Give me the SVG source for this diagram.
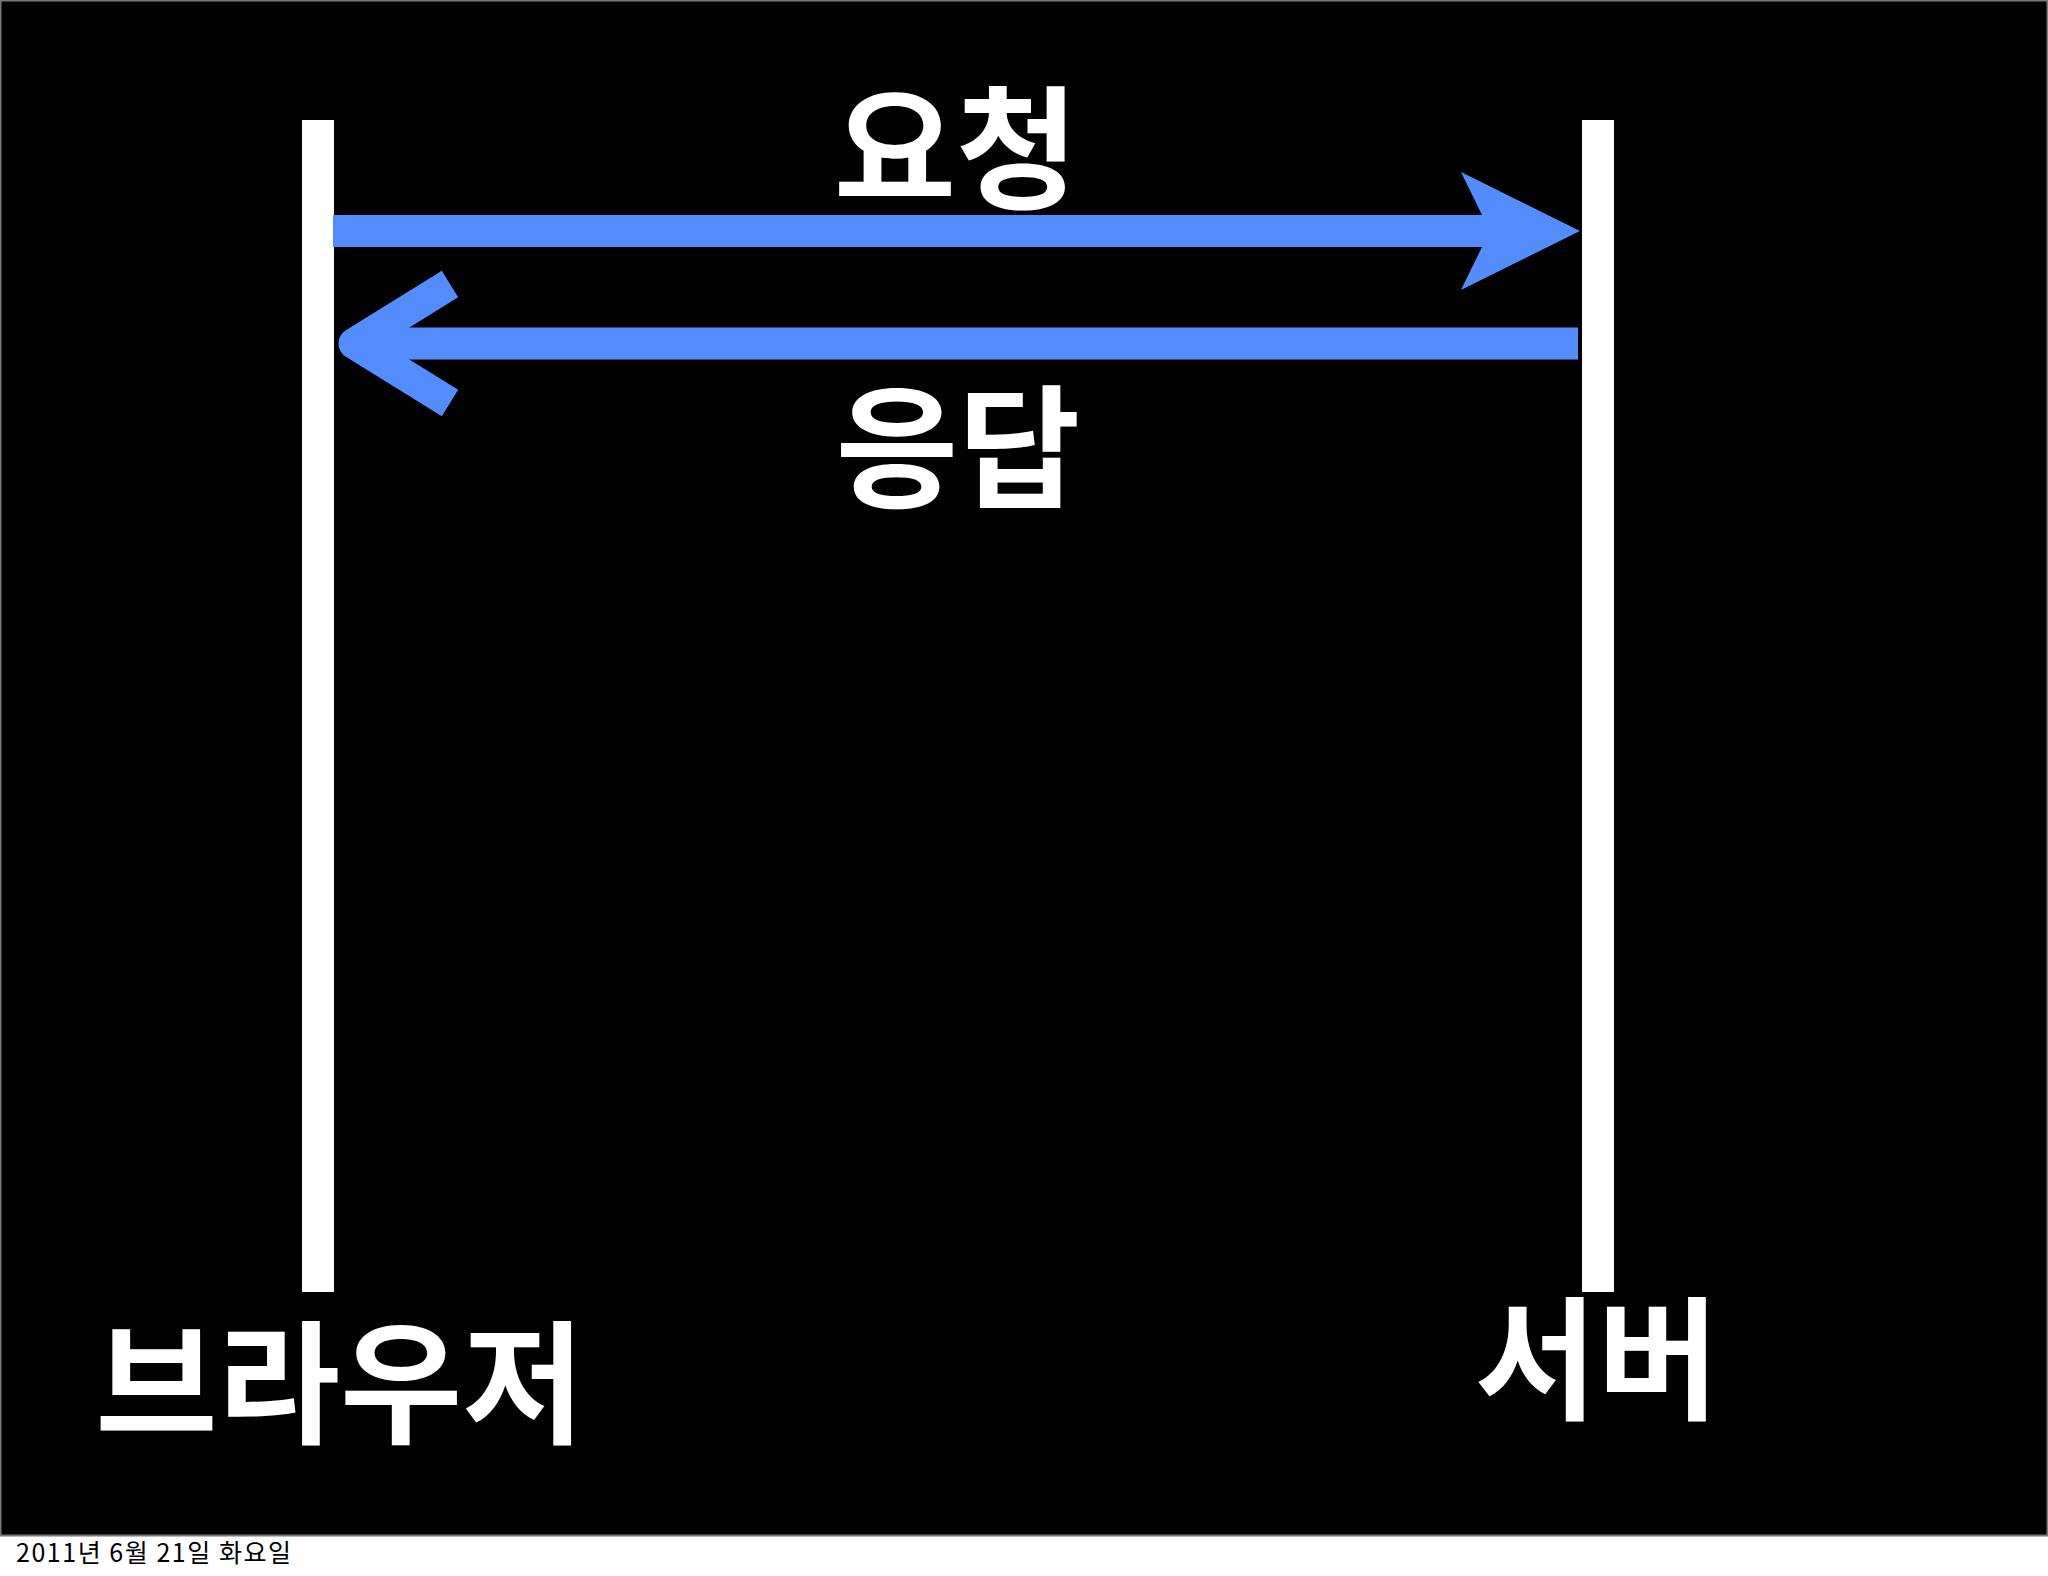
<svg xmlns="http://www.w3.org/2000/svg" width="2048" height="1576" viewBox="0 0 2048 1576">
<style>
.lbl{font-family:"Noto Sans CJK KR","Noto Sans",sans-serif;font-weight:bold;font-size:133px;fill:#fff;text-anchor:middle}
.bar{fill:#fff}
.arrow{fill:#528cfd}
</style>
<rect x="0" y="0" width="2048" height="1576" fill="#fff"/>
<rect x="0.5" y="0.5" width="2047" height="1535" fill="#020202" stroke="#777" stroke-width="2"/>
<g id="browser">
<rect class="bar" x="302" y="120" width="32" height="1172"/>
<text class="lbl" x="340" y="1433">브라우저</text>
</g>
<g id="server">
<rect class="bar" x="1582" y="120" width="32" height="1172"/>
<text class="lbl" x="1597" y="1409">서버</text>
</g>
<g id="connectors">
<g id="request">
<rect class="arrow" x="333" y="215" width="1150" height="32"/>
<polygon class="arrow" points="1461,172 1580,231 1461,290 1482,247 1482,215"/>
<text class="lbl" x="956" y="198">요청</text>
</g>
<g id="response">
<rect class="arrow" x="360" y="327.5" width="1218" height="32"/>
<polyline points="450,284 354,343.5 450,403" fill="none" stroke="#528cfd" stroke-width="31" stroke-linejoin="round"/>
<text class="lbl" x="958" y="497">응답</text>
</g>
</g>
<text x="16" y="1562" font-family="'Noto Sans CJK KR','Noto Sans',sans-serif" font-size="25" fill="#000" textLength="275" lengthAdjust="spacing">2011년 6월 21일 화요일</text>
</svg>
